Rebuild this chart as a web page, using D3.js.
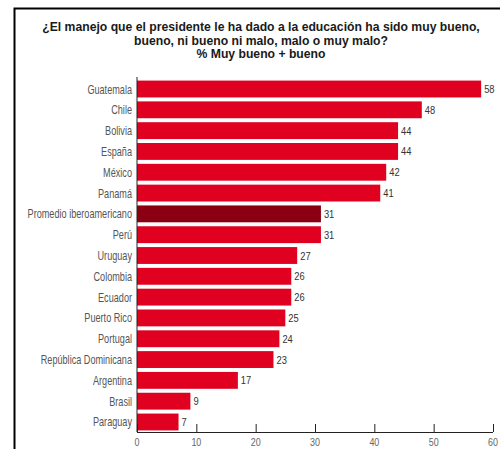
<!DOCTYPE html>
<html><head><meta charset="utf-8">
<script src="https://cdn.jsdelivr.net/npm/d3@7"></script>
<style>body{margin:0;background:#fff}</style>
</head><body>
<svg id="c" width="500" height="449"></svg>
<script>
const categories = ["Guatemala","Chile","Bolivia","España","México","Panamá","Promedio iberoamericano","Perú","Uruguay","Colombia","Ecuador","Puerto Rico","Portugal","República Dominicana","Argentina","Brasil","Paraguay"];
const values = [58,48,44,44,42,41,31,31,27,26,26,25,24,23,17,9,7];
const highlight = ["Promedio iberoamericano"];
const xTicks = [0,10,20,30,40,50,60];
const titleLines = ["¿El manejo que el presidente le ha dado a la educación ha sido muy bueno,","bueno, ni bueno ni malo, malo o muy malo?","% Muy bueno + bueno"];

const svg = d3.select("#c");
const font = "'Liberation Sans', Arial, sans-serif";

// frame
svg.append("path").attr("d","M14.5,449 V8.5 H500").attr("fill","none").attr("stroke","#000").attr("stroke-width",2);

// title
svg.append("g").selectAll("text").data(titleLines).join("text")
  .attr("x",261).attr("y",(d,i)=>31+i*13.5)
  .attr("text-anchor","middle")
  .attr("font-family",font)
  .attr("font-weight","bold").attr("font-size","12.2px").attr("fill","#1a1a1a")
  .text(d=>d);

const x = d3.scaleLinear().domain([0,60]).range([137,493]);
const y = d3.scaleBand().domain(categories).range([78.5,432.5]).paddingInner(0.19).paddingOuter(0.1);

// bars
svg.append("g").selectAll("rect").data(categories).join("rect")
  .attr("x",x(0)).attr("y",d=>y(d)).attr("height",y.bandwidth())
  .attr("width",(d,i)=>x(values[i])-x(0))
  .attr("fill",d=>highlight.includes(d)?"#8a0012":"#e00020");

// value labels
svg.append("g").selectAll("text").data(categories).join("text")
  .attr("transform",(d,i)=>`translate(${x(values[i])+3},${y(d)+y.bandwidth()/2+4}) scale(0.85,1)`)
  .attr("font-family",font).attr("font-size","11px").attr("fill","#333")
  .text((d,i)=>values[i]);

// category labels
svg.append("g").selectAll("text").data(categories).join("text")
  .attr("transform",d=>`translate(132,${y(d)+y.bandwidth()/2+4.5}) scale(0.73,1)`)
  .attr("text-anchor","end")
  .attr("font-family",font).attr("font-size","12.5px").attr("fill","#555")
  .text(d=>d);

// y axis line
svg.append("line").attr("x1",x(0)).attr("x2",x(0)).attr("y1",77).attr("y2",432).attr("stroke","#222").attr("stroke-width",1);

// x axis
const xa = svg.append("g").attr("transform","translate(0,432)")
  .call(d3.axisTop(x).tickValues(xTicks).tickSize(8).tickFormat(""));
xa.select(".domain").attr("stroke","#222").attr("d","M"+x(0)+",0.5H"+x(60));
xa.selectAll(".tick line").attr("stroke","#222");
svg.append("g").selectAll("text").data(xTicks).join("text")
  .attr("transform",d=>`translate(${x(d)},446) scale(0.85,1)`).attr("text-anchor","middle")
  .attr("font-family",font).attr("font-size","10.5px").attr("fill","#666")
  .text(d=>d);
</script>
</body></html>
